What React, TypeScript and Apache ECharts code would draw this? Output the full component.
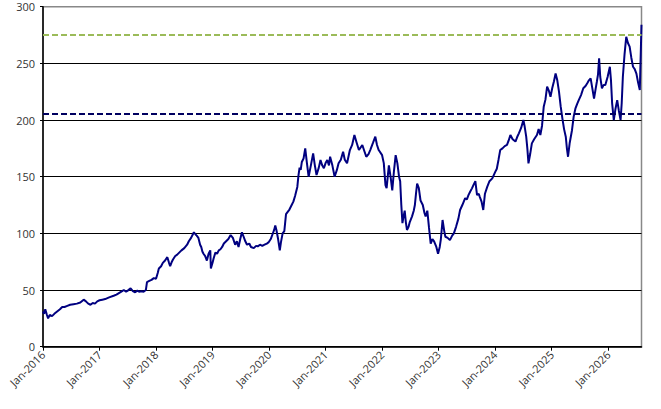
import React, { useEffect, useRef } from "react";
import * as echarts from "echarts";

// decimal year of each observation
const years: number[] = [
  2016.0, 2016.02, 2016.04, 2016.07, 2016.09, 2016.12, 2016.16, 2016.2, 2016.25, 2016.3,
  2016.34, 2016.38, 2016.43, 2016.48, 2016.54, 2016.6, 2016.66, 2016.72, 2016.76, 2016.8,
  2016.84, 2016.88, 2016.92, 2016.96, 2017.0, 2017.05, 2017.1, 2017.17, 2017.25, 2017.3,
  2017.35, 2017.4, 2017.43, 2017.47, 2017.5, 2017.55, 2017.59, 2017.63, 2017.67, 2017.7,
  2017.74, 2017.78, 2017.82, 2017.84, 2017.88, 2017.92, 2017.96, 2018.0, 2018.03, 2018.05,
  2018.09, 2018.12, 2018.16, 2018.2, 2018.23, 2018.25, 2018.28, 2018.3, 2018.34, 2018.37,
  2018.41, 2018.45, 2018.5, 2018.55, 2018.58, 2018.62, 2018.65, 2018.67, 2018.7, 2018.72,
  2018.75, 2018.78, 2018.8, 2018.82, 2018.84, 2018.87, 2018.9, 2018.93, 2018.96, 2018.97,
  2019.0, 2019.02, 2019.05, 2019.08, 2019.11, 2019.14, 2019.17, 2019.2, 2019.24, 2019.28,
  2019.32, 2019.36, 2019.4, 2019.43, 2019.46, 2019.49, 2019.52, 2019.55, 2019.58, 2019.61,
  2019.65, 2019.68, 2019.73, 2019.77, 2019.8, 2019.84, 2019.88, 2019.92, 2019.96, 2019.99,
  2020.03, 2020.06, 2020.09, 2020.11, 2020.13, 2020.16, 2020.19, 2020.21, 2020.24, 2020.27,
  2020.3, 2020.33, 2020.36, 2020.4, 2020.43, 2020.46, 2020.48, 2020.5, 2020.52, 2020.54,
  2020.56, 2020.58, 2020.61, 2020.64, 2020.67, 2020.7, 2020.74, 2020.78, 2020.81, 2020.84,
  2020.88, 2020.91, 2020.94, 2020.97, 2021.0, 2021.03, 2021.06, 2021.08, 2021.12, 2021.16,
  2021.2, 2021.23, 2021.27, 2021.31, 2021.34, 2021.38, 2021.43, 2021.47, 2021.51, 2021.55,
  2021.59, 2021.65, 2021.69, 2021.72, 2021.76, 2021.79, 2021.84, 2021.88, 2021.91, 2021.94,
  2022.0, 2022.03, 2022.06, 2022.08, 2022.1, 2022.12, 2022.15, 2022.18, 2022.21, 2022.24,
  2022.27, 2022.3, 2022.32, 2022.34, 2022.36, 2022.38, 2022.4, 2022.42, 2022.44, 2022.47,
  2022.49, 2022.53, 2022.56, 2022.58, 2022.6, 2022.62, 2022.65, 2022.68, 2022.7, 2022.72,
  2022.75, 2022.77, 2022.8, 2022.83, 2022.86, 2022.89, 2022.92, 2022.96, 2022.99, 2023.02,
  2023.04, 2023.07, 2023.1, 2023.12, 2023.16, 2023.2, 2023.24, 2023.27, 2023.31, 2023.35,
  2023.38, 2023.42, 2023.47, 2023.5, 2023.53, 2023.56, 2023.59, 2023.62, 2023.65, 2023.68,
  2023.71, 2023.73, 2023.76, 2023.79, 2023.82, 2023.86, 2023.9, 2023.95, 2024.0, 2024.03,
  2024.06, 2024.09, 2024.13, 2024.17, 2024.21, 2024.24, 2024.27, 2024.31, 2024.36, 2024.39,
  2024.42, 2024.46, 2024.5, 2024.52, 2024.55, 2024.57, 2024.59, 2024.62, 2024.65, 2024.69,
  2024.74, 2024.77, 2024.8, 2024.83, 2024.86, 2024.89, 2024.92, 2024.95, 2024.98, 2025.01,
  2025.04, 2025.07, 2025.1, 2025.13, 2025.16, 2025.19, 2025.22, 2025.25, 2025.27, 2025.29,
  2025.32, 2025.36, 2025.39, 2025.42, 2025.45, 2025.48, 2025.52, 2025.56, 2025.6, 2025.63,
  2025.66, 2025.69, 2025.72, 2025.75, 2025.78, 2025.8, 2025.82, 2025.84, 2025.86, 2025.89,
  2025.92, 2025.95, 2025.99, 2026.03, 2026.05, 2026.07, 2026.1, 2026.13, 2026.16, 2026.19,
  2026.22, 2026.24, 2026.26, 2026.29, 2026.32, 2026.35, 2026.38, 2026.41, 2026.44, 2026.47,
  2026.5, 2026.53, 2026.56, 2026.58, 2026.59,
];

const prices: number[] = [
  31, 29, 33, 28, 25, 28, 27, 29, 31, 33,
  35, 35, 36, 37, 37.5, 38, 39, 41.5, 40, 38,
  37, 38.5, 38, 40, 41, 41.5, 42, 43.5, 45, 46,
  47.5, 49, 50, 48.5, 49.5, 51.5, 49, 48, 49.5, 48.5,
  49, 48.5, 50, 57, 58, 59, 60.5, 60, 65, 69,
  71, 74, 76, 79, 74, 71, 75, 77, 80, 81,
  83, 85, 87, 90, 93, 96, 99, 101, 99, 98,
  96, 90, 88, 84, 82, 80, 76, 82, 85, 69,
  74, 78, 83, 82, 85, 86, 88, 91, 93, 95,
  98.5, 96, 90, 93, 88, 95, 101, 97, 93, 90,
  91, 88, 87, 89, 88.5, 90, 89, 90, 91, 92,
  95, 99, 103, 107, 103, 95, 85, 92, 100, 102,
  117, 119, 121, 125, 128, 133, 137, 141, 151, 158,
  156, 163, 166, 175, 162, 150, 160, 170.6, 160, 151.5,
  158, 164.7, 160, 157.4, 162, 164.7, 160, 167.6, 160, 150,
  156, 161.8, 165, 172, 165, 161.8, 173.5, 178, 186.8, 180,
  173.5, 178, 172, 167.6, 170, 173.5, 180, 185.3, 178, 173.5,
  169, 162, 142.6, 140, 150, 160, 150, 138, 155, 169,
  162, 150, 146, 125, 109, 115, 120, 110, 103, 106,
  110, 115, 120, 125, 135, 144, 140, 129, 127, 125,
  118, 115, 120, 105, 91, 95, 93, 88, 82, 88,
  95, 111.8, 102, 97, 96, 94, 98, 100, 106, 113,
  120.6, 125, 131, 130, 134, 137, 139.7, 143, 146, 133.8,
  135, 132, 128, 120.6, 135, 141, 146, 148.5, 154, 157,
  165, 173.5, 175, 177, 178, 182, 186.8, 183, 181, 185,
  188.3, 193, 200, 195, 185.3, 175, 161.8, 170, 179.4, 183,
  186.8, 192, 186.8, 195, 211.8, 218, 229.4, 226, 220.6, 228,
  234, 241, 235, 225, 212, 201.5, 192, 185.3, 175, 167.6,
  180, 191, 203, 210, 214, 217.6, 222, 228, 230, 232.4,
  235, 236.8, 228, 219, 228, 233.8, 240, 254.4, 238, 228,
  231, 230.9, 238, 247, 235, 215, 200, 210, 217.6, 208,
  200, 215, 238, 258, 273.5, 268, 264.7, 255, 247, 245,
  241, 233, 226.5, 265, 284,
];

const yearTicks: number[] = [2016, 2017, 2018, 2019, 2020, 2021, 2022, 2023, 2024, 2025, 2026];
const upperTarget = 275;
const lowerTarget = 205.5;

export default function App() {
  const ref = useRef<HTMLDivElement>(null);
  useEffect(() => {
    if (!ref.current) return;
    const chart = echarts.init(ref.current, undefined, { renderer: "svg" });
    const font = "'Open Sans', 'Noto Sans', sans-serif";
    chart.setOption({
      animation: false,
      backgroundColor: "#ffffff",
      grid: {
        left: 43,
        right: 19.5,
        top: 6.7,
        bottom: 62.3,
        show: true,
        borderColor: "#888888",
        borderWidth: 1.5,
      },
      xAxis: {
        type: "value",
        min: 2016,
        max: 2026.59,
        axisLine: { show: true, lineStyle: { color: "#000000", width: 1.5 } },
        axisTick: {
          show: true,
          length: 4,
          customValues: yearTicks,
          lineStyle: { color: "#000000", width: 1 },
        },
        axisLabel: {
          customValues: yearTicks,
          rotate: 45,
          margin: 6,
          fontSize: 11,
          fontFamily: font,
          color: "#333333",
          formatter: (v: number) => "Jan-" + Math.round(v),
        },
        splitLine: { show: false },
      },
      yAxis: {
        type: "value",
        min: 0,
        max: 300,
        interval: 50,
        axisLine: { show: true, lineStyle: { color: "#000000", width: 1.5 } },
        axisTick: { show: true, length: 3, lineStyle: { color: "#000000" } },
        axisLabel: { fontSize: 11, fontFamily: font, color: "#333333", margin: 8 },
        splitLine: {
          show: true,
          lineStyle: {
            color: ["#000000", "#000000", "#000000", "#000000", "#000000", "#000000", "#888888"],
            width: 1,
          },
        },
      },
      series: [
        {
          type: "line",
          data: years.map((y, i) => [y, prices[i]]),
          showSymbol: false,
          symbol: "none",
          lineStyle: { color: "#000080", width: 2 },
          z: 3,
          markLine: {
            silent: true,
            symbol: "none",
            label: { show: false },
            data: [
              { yAxis: upperTarget, lineStyle: { color: "#9bbb59", type: [6, 3], width: 2 } },
              { yAxis: lowerTarget, lineStyle: { color: "#000060", type: [6, 3], width: 2 } },
            ],
          },
        },
      ],
    });
    return () => chart.dispose();
  }, []);
  return (
    <div
      ref={ref}
      style={{ position: "fixed", left: 0, top: 0, width: 661, height: 409 }}
    />
  );
}
